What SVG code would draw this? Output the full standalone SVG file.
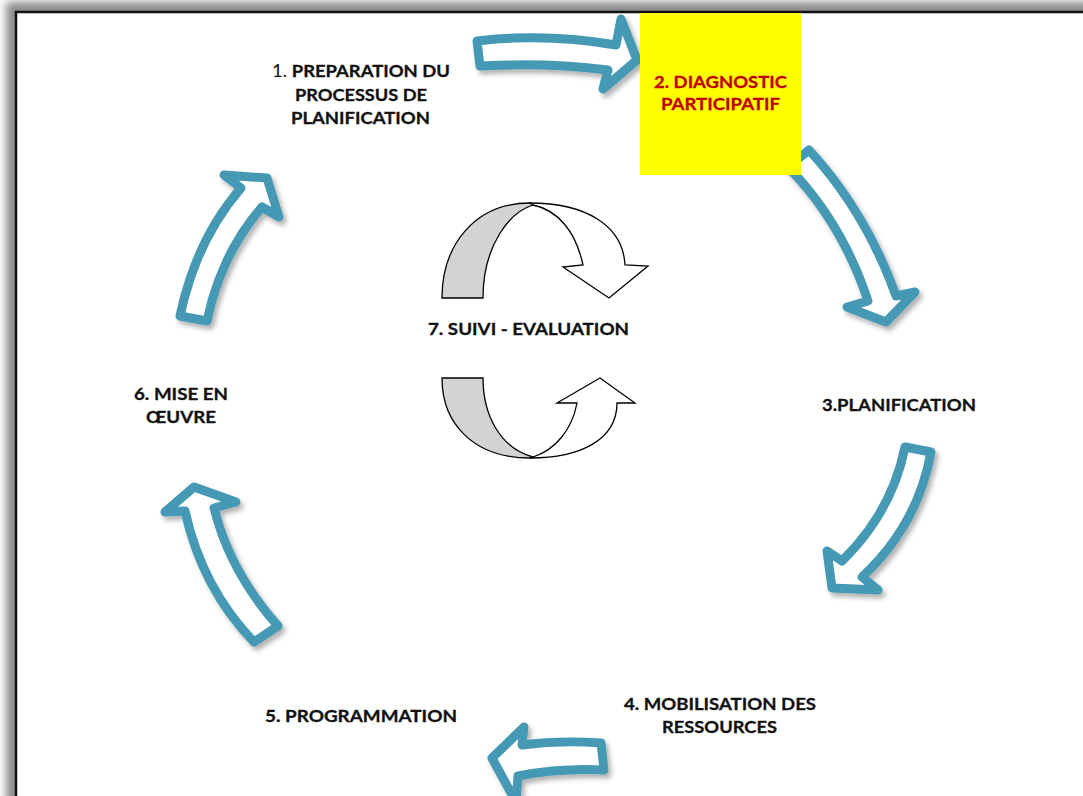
<svg xmlns="http://www.w3.org/2000/svg" width="1083" height="796" viewBox="0 0 1083 796">
  <defs>
    <filter id="pageShadow" x="-5%" y="-5%" width="110%" height="110%">
      <feGaussianBlur stdDeviation="4"/>
    </filter>
    <filter id="arrowShadow" x="-20%" y="-20%" width="140%" height="140%">
      <feDropShadow dx="3" dy="4" stdDeviation="2.5" flood-color="#000" flood-opacity="0.3"/>
    </filter>
    <style>
      .flow { fill: #ffffff; stroke: #4499B4; stroke-width: 9; stroke-linejoin: round; filter: url(#arrowShadow); }
      .cycFront { fill: #ffffff; stroke: #000; stroke-width: 1.3; stroke-linejoin: miter; }
      .cycBack { fill: #D3D3D3; stroke: #000; stroke-width: 1.3; }
      .lbl { font-family: Lato, "Open Sans", "Liberation Sans", sans-serif; font-size: 17px; font-weight: bold; fill: #111; stroke: #111; stroke-width: 0.3; text-anchor: start; }
      .red { fill: #C00000; stroke: #C00000; }
      .reg { font-weight: normal; stroke-width: 0; }
    </style>
  </defs>

  <!-- page with soft shadow and black border -->
  <rect x="6" y="2" width="1100" height="830" fill="#8a8a8a" filter="url(#pageShadow)"/>
  <rect x="16" y="12" width="1100" height="830" fill="#ffffff" stroke="#111" stroke-width="2.5"/>

  <!-- connectors: curved block arrows around the cycle -->
  <g id="connectors">
    <!-- 1 -> 2 -->
    <path class="flow" d="M477,41 Q545,33 616,45 L621,19 L637,60 L603,89 L608,70 Q545,62 480,66 Z"/>
    <!-- 2 -> 3 -->
    <path class="flow" d="M788,167 L809,150 Q866,212 896,296 L915,292 L886,322 L847,307 L868,301 Q842,222 788,167 Z"/>
    <!-- 3 -> 4 -->
    <path class="flow" d="M905,447 L931,452 Q918,525 862,577 L878,590 L832,588 L827,551 L842,561 Q892,512 905,447 Z"/>
    <!-- 4 -> 5 -->
    <path class="flow" d="M601,743 L604,770 Q560,768 518,776 L516,802 L492,758 L524,727 L522,745 Q560,740 601,743 Z"/>
    <!-- 5 -> 6 -->
    <path class="flow" d="M254,642 L278,626 Q230,572 214,508 L236,502 L194,487 L165,512 L185,511 Q202,588 254,642 Z"/>
    <!-- 6 -> 1 -->
    <path class="flow" d="M180,316 L207,321 Q221,254 262,207 L279,217 L267,178 L224,175 L241,188 Q196,240 180,316 Z"/>
  </g>

  <g id="step1">
    <text class="lbl" x="272" y="77" textLength="178" lengthAdjust="spacingAndGlyphs"><tspan class="reg">1. </tspan>PREPARATION DU</text>
    <text class="lbl" x="295" y="101" textLength="132" lengthAdjust="spacingAndGlyphs">PROCESSUS DE</text>
    <text class="lbl" x="291" y="124" textLength="139" lengthAdjust="spacingAndGlyphs">PLANIFICATION</text>
  </g>

  <g id="step2">
    <rect x="640" y="13" width="161" height="162" fill="#FFFF00"/>
    <text class="lbl red" x="654" y="88" textLength="133" lengthAdjust="spacingAndGlyphs">2. DIAGNOSTIC</text>
    <text class="lbl red" x="661" y="110" textLength="119" lengthAdjust="spacingAndGlyphs">PARTICIPATIF</text>
  </g>

  <g id="step3">
    <text class="lbl" x="822" y="411" textLength="154" lengthAdjust="spacingAndGlyphs">3.PLANIFICATION</text>
  </g>

  <g id="step4">
    <text class="lbl" x="624" y="710" textLength="192" lengthAdjust="spacingAndGlyphs">4. MOBILISATION DES</text>
    <text class="lbl" x="662" y="733" textLength="115" lengthAdjust="spacingAndGlyphs">RESSOURCES</text>
  </g>

  <g id="step5">
    <text class="lbl" x="265" y="722" textLength="192" lengthAdjust="spacingAndGlyphs">5. PROGRAMMATION</text>
  </g>

  <g id="step6">
    <text class="lbl" x="134" y="400" textLength="94" lengthAdjust="spacingAndGlyphs">6. MISE EN</text>
    <text class="lbl" x="146" y="423" textLength="70" lengthAdjust="spacingAndGlyphs">ŒUVRE</text>
  </g>

  <g id="step7">
    <!-- upper looping arrow -->
    <path class="cycBack" d="M442,298 C442,245 475,203 530,203 L533,205 C510,212 483,245 483,298 Z"/>
    <path class="cycFront" d="M530,203 C585,203 623,225 625,265 L648,266 L609,298 L563,267 L583,265 C576,232 558,210 533,205 Z"/>
    <!-- lower looping arrow -->
    <path class="cycBack" d="M442,378 L483,378 C483,415 500,448 533,457 L530,458 C475,458 442,425 442,378 Z"/>
    <path class="cycFront" d="M530,458 C580,458 617,440 617,403 L635,403 L600,378 L557,403 L577,403 C572,430 555,450 533,457 Z"/>
    <text class="lbl" x="428" y="335" textLength="201" lengthAdjust="spacingAndGlyphs">7. SUIVI - EVALUATION</text>
  </g>
</svg>
